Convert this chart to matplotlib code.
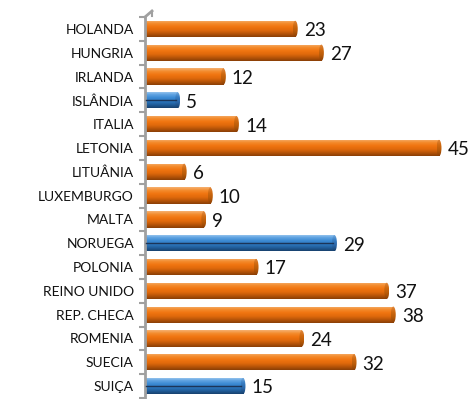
import matplotlib.pyplot as plt
import numpy as np
from matplotlib.colors import LinearSegmentedColormap
from matplotlib.patches import Rectangle, Ellipse
from matplotlib.lines import Line2D

countries = ['HOLANDA', 'HUNGRIA', 'IRLANDA', 'ISLÂNDIA', 'ITALIA', 'LETONIA',
             'LITUÂNIA', 'LUXEMBURGO', 'MALTA', 'NORUEGA', 'POLONIA',
             'REINO UNIDO', 'REP. CHECA', 'ROMENIA', 'SUECIA', 'SUIÇA']
values = [23, 27, 12, 5, 14, 45, 6, 10, 9, 29, 17, 37, 38, 24, 32, 15]
non_eu = ['ISLÂNDIA', 'NORUEGA', 'SUIÇA']

orange = LinearSegmentedColormap.from_list(
    'orange', ['#f6b070', '#f38a2a', '#f07410', '#e06a0c', '#b85508', '#8a3f06'])
blue = LinearSegmentedColormap.from_list(
    'blue', ['#a6cdf0', '#5fa3e2', '#3b8ad3', '#2e78c0', '#215f9c', '#17416e'])
orange_cap = LinearSegmentedColormap.from_list(
    'orange_cap', ['#e08a40', '#d06a10', '#b85a08', '#8a3f06'])
blue_cap = LinearSegmentedColormap.from_list(
    'blue_cap', ['#7fb3e4', '#3a7fc4', '#2a66a8', '#17416e'])

plt.rcParams['font.family'] = ['Lato', 'DejaVu Sans']

fig = plt.figure(figsize=(4.73, 3.99), dpi=100)
ax = fig.add_axes([145 / 473, 1 / 399, 1 - 145 / 473, 381 / 399])

n = len(countries)
h = 0.68
grad = np.linspace(0, 1, 64).reshape(-1, 1)
cap_w = 0.75

for i, (name, v) in enumerate(zip(countries, values)):
    cm = blue if name in non_eu else orange
    ccm = blue_cap if name in non_eu else orange_cap
    top, bot = i - h / 2, i + h / 2
    body = ax.imshow(grad, cmap=cm, aspect='auto', extent=(0, v, bot, top),
                     interpolation='bilinear', zorder=2)
    body.set_clip_path(Rectangle((0, top), v, h, transform=ax.transData))
    cap = Ellipse((v, i), cap_w, h, transform=ax.transData)
    cimg = ax.imshow(grad, cmap=ccm, aspect='auto',
                     extent=(v - cap_w / 2, v + cap_w / 2, bot, top),
                     interpolation='bilinear', zorder=3)
    cimg.set_clip_path(cap)
    if name in non_eu:
        ax.plot([0.2, v - 0.3], [i, i], color='#1b3558', lw=1.0, zorder=4)
    ax.text(v + 1.3, i + 0.08, str(v), ha='left', va='center',
            fontsize=13.5, color='#111111')

ax.set_xlim(0, 50.2)
ax.set_ylim(n - 0.5, -0.5)
ax.set_yticks(np.arange(n + 1) - 0.5, minor=True)
ax.set_yticks(np.arange(n))
ax.set_yticklabels(countries, fontsize=10, color='#111111')
ax.tick_params(axis='y', which='major', length=0, pad=8)
ax.tick_params(axis='y', which='minor', length=4, width=1.5, color='#a0a0a0',
               direction='out')
ax.set_xticks([])
for s in ['top', 'right', 'bottom']:
    ax.spines[s].set_visible(False)
ax.spines['left'].set_color('#a0a0a0')
ax.spines['left'].set_linewidth(2)

# small slanted corner at the top of the axis wall
fig.add_artist(Line2D([145 / 473, 152 / 473], [1 - 17 / 399, 1 - 11 / 399],
                      transform=fig.transFigure, color='#a0a0a0', lw=2))
fig.add_artist(Line2D([152 / 473, 152 / 473], [1 - 11 / 399, 1 - 16 / 399],
                      transform=fig.transFigure, color='#a0a0a0', lw=1.5))

fig.savefig('out.png', dpi=100)
